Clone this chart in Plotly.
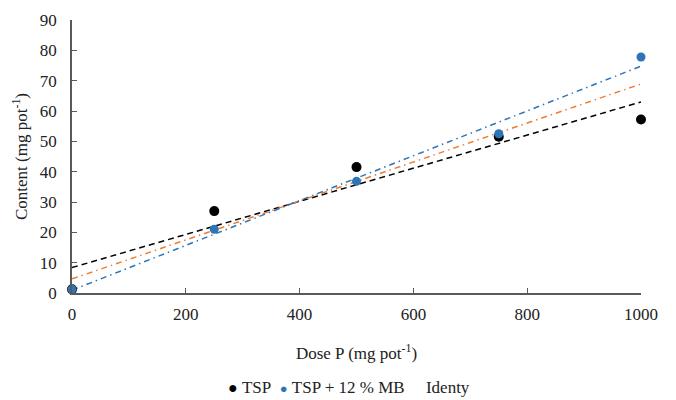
import numpy as np
import plotly.graph_objects as go

# Phosphorus dose applied (mg pot-1)
dose = [0, 250, 500, 750, 1000]

# P content (mg pot-1) for each fertilizer source
tsp = [1.2, 27.0, 41.5, 51.5, 57.2]
tsp_mb = [1.2, 21.0, 36.8, 52.5, 77.8]

series_names = ["TSP", "TSP + 12 % MB", "Identy"]

x_ticks = [0, 200, 400, 600, 800, 1000]
y_ticks = [0, 10, 20, 30, 40, 50, 60, 70, 80, 90]

BLACK = "#000000"
BLUE = "#2E75B6"
ORANGE = "#ED7D31"
FONT = "Liberation Serif"
TEXT = "#222222"


def linear_fit(xs, ys):
    slope, intercept = np.polyfit(np.asarray(xs, float), np.asarray(ys, float), 1)
    xr = np.array([min(xs), max(xs)], float)
    return xr, slope * xr + intercept


fig = go.Figure()

# linear trend lines
tx, ty = linear_fit(dose, tsp)
fig.add_trace(go.Scatter(x=tx, y=ty, mode="lines", showlegend=False,
                         line=dict(color=BLACK, width=1.5, dash="6px,4px"),
                         hoverinfo="skip"))
ix, iy = linear_fit(dose + dose, tsp + tsp_mb)
fig.add_trace(go.Scatter(x=ix, y=iy, mode="lines", showlegend=False,
                         line=dict(color=ORANGE, width=1.5, dash="6px,4px,1.5px,4px"),
                         hoverinfo="skip"))
bx, by = linear_fit(dose, tsp_mb)
fig.add_trace(go.Scatter(x=bx, y=by, mode="lines", showlegend=False,
                         line=dict(color=BLUE, width=1.5, dash="6px,4px,1.5px,4px"),
                         hoverinfo="skip"))

# observed values
fig.add_trace(go.Scatter(x=dose, y=tsp, mode="markers", name=series_names[0],
                         showlegend=False,
                         marker=dict(color=BLACK, size=10), cliponaxis=False))
fig.add_trace(go.Scatter(x=dose, y=tsp_mb, mode="markers", name=series_names[1],
                         showlegend=False,
                         marker=dict(color=BLUE, size=9), cliponaxis=False))

axis_common = dict(
    showgrid=False, zeroline=False, showline=True,
    linecolor="#595959", linewidth=1.5,
    ticks="inside", ticklen=5, tickwidth=1, tickcolor="#595959",
    tickfont=dict(family=FONT, size=17, color=TEXT),
)

# legend row below the x-axis title
nb = "&nbsp;"
legend_text = (
    f"<span style='color:{BLACK};font-size:16px'>●</span>{nb}{series_names[0]}{nb}{nb}"
    f"<span style='color:{BLUE};font-size:13px'>●</span>{nb}{series_names[1]}"
    f"{nb * 5}{series_names[2]}"
)

fig.update_layout(
    width=676, height=400,
    margin=dict(l=72, r=35, t=20, b=107, autoexpand=False),
    paper_bgcolor="white", plot_bgcolor="white",
    font=dict(family=FONT, size=17, color=TEXT),
    xaxis=dict(range=[0, 1000], tickvals=x_ticks, ticklabelstandoff=5,
               automargin=False,
               title=dict(text="Dose P (mg pot<sup>-1</sup>)", standoff=24,
                          font=dict(family=FONT, size=17)),
               **axis_common),
    yaxis=dict(range=[0, 90], tickvals=y_ticks, ticklabelstandoff=10,
               automargin=False,
               title=dict(text="Content (mg pot<sup>-1</sup>)", standoff=8,
                          font=dict(family=FONT, size=17)),
               **axis_common),
    showlegend=False,
    annotations=[dict(text=legend_text, xref="paper", yref="paper",
                      x=0.486, y=-0.345, xanchor="center", yanchor="middle",
                      showarrow=False, font=dict(family=FONT, size=17, color=TEXT))],
)

fig.write_html("out.html")
